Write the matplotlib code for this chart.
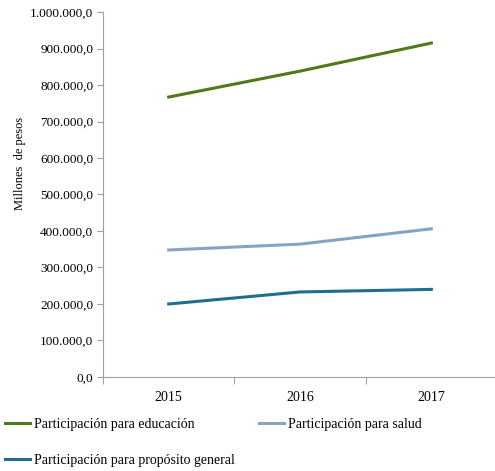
import matplotlib.pyplot as plt
from matplotlib.ticker import FuncFormatter

years = ['2015', '2016', '2017']
educacion = [767000, 838000, 915000]
salud = [348000, 364000, 406000]
general = [200000, 233000, 240000]

plt.rcParams['font.family'] = ['Liberation Serif', 'DejaVu Serif']

fig = plt.figure(figsize=(4.95, 4.71), dpi=100)
ax = fig.add_axes([0.2081, 0.1996, 0.796, 0.7749])

x = range(len(years))
l1, = ax.plot(x, educacion, color='#4e7a1a', lw=2.2, label='Participación para educación')
l2, = ax.plot(x, salud, color='#85a4c4', lw=2.2, label='Participación para salud')
l3, = ax.plot(x, general, color='#1f6e90', lw=2.2, label='Participación para propósito general')

ax.set_ylim(0, 1000000)
ax.set_xlim(-0.5, 2.5)
ax.set_yticks(range(0, 1000001, 100000))


def fmt(v, pos):
    s = f'{int(v):,}'.replace(',', '.')
    return s + ',0'


ax.yaxis.set_major_formatter(FuncFormatter(fmt))

# category boundaries as ticks, labels in between
ax.set_xticks([-0.5, 0.5, 1.5, 2.5])
ax.set_xticklabels([])
ax.set_xticks(list(x), minor=True)
ax.set_xticklabels(years, minor=True)
ax.tick_params(axis='x', which='major', length=5, color='#a0a0a0', direction='out')
ax.tick_params(axis='x', which='minor', length=0, pad=10, labelsize=10)
ax.tick_params(axis='y', length=4, color='#a0a0a0', labelsize=9.5, pad=3)

for s in ['top', 'right']:
    ax.spines[s].set_visible(False)
for s in ['left', 'bottom']:
    ax.spines[s].set_color('#a0a0a0')

fig.text(20 / 495, 1 - 163 / 471, 'Millones  de pesos', rotation=90,
         ha='center', va='center', fontsize=9)

fig.legend(handles=[l1, l3, l2], loc='upper left', bbox_to_anchor=(2 / 495, 1 - 415 / 471),
           ncol=2, frameon=False, fontsize=10, handlelength=1.8, handletextpad=0.3,
           columnspacing=1.75, labelspacing=1.68, borderaxespad=0, borderpad=0.2)

fig.savefig('out.png', dpi=100)
